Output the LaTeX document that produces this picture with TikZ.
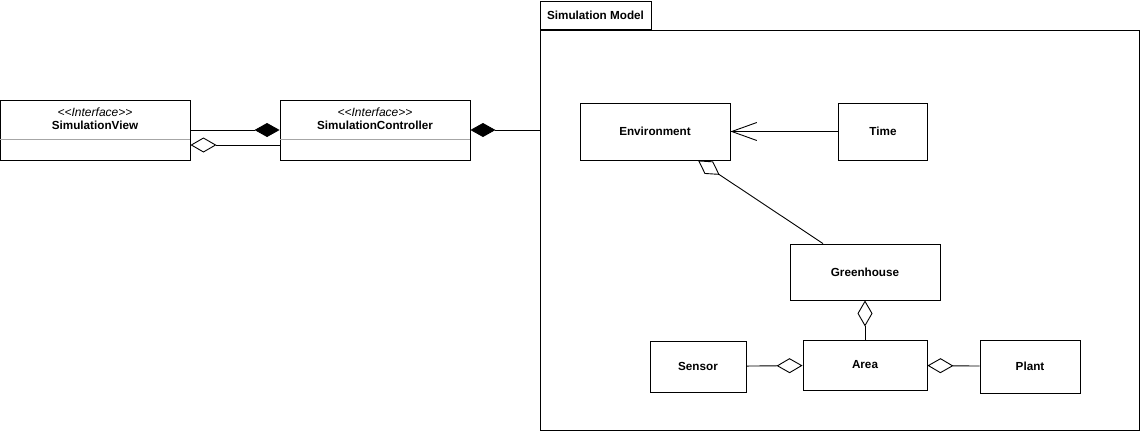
\documentclass[tikz,border=0pt]{standalone}
\usepackage{fontspec}
\setmainfont{Liberation Sans}
\usetikzlibrary{arrows.meta}

\begin{document}
\begin{tikzpicture}[x=1pt,y=-1pt,
  font=\fontsize{11.7}{13}\selectfont\bfseries,
  box/.style 2 args={draw, line width=0.9pt, minimum width=#1, minimum height=#2, inner sep=0pt},
  stereo/.style={font=\fontsize{12}{13}\selectfont\itshape},
  conn/.style={line width=0.9pt},
  compo/.style={-{Diamond[length=25pt,width=14pt]}},
  aggr/.style={-{Diamond[open,length=26pt,width=15pt]}},
  dep/.style={-{Straight Barb[length=25pt,width=18pt]}}]
\useasboundingbox (0,0) rectangle (1141,431);
\node[box={190pt}{60pt}] (view) at (95,130) {};
\node[stereo] (viewst) at (95,112) {<\kern0pt<Interface>\kern0pt>};
\node (viewname) at (95,125) {SimulationView};
\node[box={190pt}{60pt}] (ctrl) at (375,130) {};
\node[stereo] (ctrlst) at (375,112) {<\kern0pt<Interface>\kern0pt>};
\node (ctrlname) at (375,125) {SimulationController};
\path[draw,black!35,line width=0.9pt] ([yshift=-9pt]view.west) -- ([yshift=-9pt]view.east);
\path[draw,black!35,line width=0.9pt] ([yshift=-9pt]ctrl.west) -- ([yshift=-9pt]ctrl.east);
\node[box={599pt}{400pt}] (model) at (839.5,230) {};
\node[box={111pt}{28pt}, anchor=south west] (tab) at (model.north west) {Simulation Model};
\node[box={150pt}{57pt}] (env) at (655,131.5) {Environment};
\node[box={89pt}{57pt}] (time) at (883,131.5) {Time};
\node[box={150pt}{56pt}] (house) at (865,272) {Greenhouse};
\node[box={124pt}{50pt}] (area) at (865,365) {Area};
\node[box={96pt}{51pt}] (sensor) at (698,366.5) {Sensor};
\node[box={100pt}{53pt}] (plant) at (1030,366.5) {Plant};
\path[draw,conn,compo] (view.east) -- (ctrl.west);
\path[draw,conn,aggr] ([yshift=-15pt]ctrl.west) -- ([yshift=-15pt]view.east);
\path[draw,conn,compo] (model.west |- ctrl.east) -- (ctrl.east);
\path[draw,conn,dep] (time) -- (env);
\path[draw,conn,aggr] ([xshift=-42pt]house.north) -- ([xshift=43pt]env.south);
\path[draw,conn,aggr] (area) -- (house);
\path[draw,conn,aggr] (sensor) -- (area);
\path[draw,conn,aggr] (plant) -- (area);
\end{tikzpicture}
\end{document}
